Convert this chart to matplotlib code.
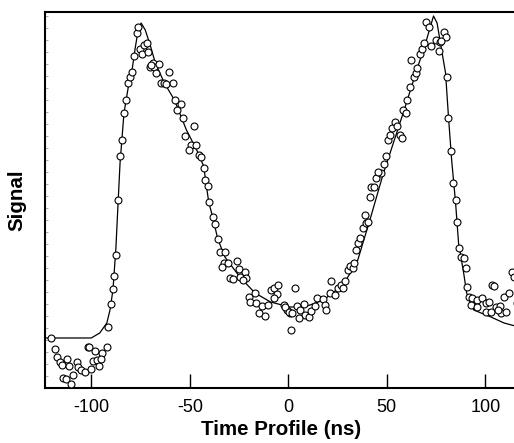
import matplotlib
matplotlib.use("Agg")
import matplotlib.pyplot as plt
import numpy as np

# fitted curve (time in ns, signal in arbitrary units)
fit_t = [-123.5, -100, -95.7, -92.1, -90.5, -89.0, -87.5, -86.4, -85.4, -84.4,
         -83.4, -81.3, -79.3, -77.7, -76.2, -74.7, -72.6, -70.1, -67.5, -62.9,
         -57.8, -51.7, -46.0, -43.0, -40.4, -38.4, -35.8, -32.2, -24.6, -16.9,
         -9.0, 0.5, 8.2, 17.9, 27.6, 34.8, 41.4, 48.0, 58.8, 66.0,
         69.1, 71.6, 73.7, 75.5, 77.2, 79.8, 81.3, 82.9, 84.9, 86.4,
         89.0, 90.5, 94.1, 102.8, 109.5, 117.0]
fit_s = [50, 50, 55, 65, 78, 98, 140, 185, 225, 250,
         275, 300, 318, 340, 358, 365, 358, 343, 325, 305,
         288, 258, 236, 222, 186, 171, 149, 131, 111, 95,
         86, 81, 81, 88, 103, 125, 168, 213, 278, 323,
         341, 358, 372, 365, 345, 315, 271, 228, 185, 145,
         115, 95, 78, 71, 65, 61]

# measured points
meas_t = [-120.2, -118.2, -117.6, -116.1, -115.1, -112.5, -111.5, -107.4, -106.9, -105.4,
          -103.3, -100.3, -114.6, -113.0, -109.5, -110.5, -101.8, -101.3, -98.2, -94.6,
          -92.1, -99.2, -97.2, -95.1, -96.2, -91.6,
          -90.0, -89.0, -88.5, -87.5, -86.4, -85.4, -84.4, -83.4, -82.4, -81.3,
          -80.3, -79.3, -78.3, -76.7, -76.2, -75.2, -74.2, -73.1, -71.1, -71.6,
          -70.1, -68.5, -68.0, -67.0, -65.5, -64.5, -62.9, -60.4, -69.6, -61.9,
          -58.3, -57.3, -54.7, -56.3, -53.2, -48.1, -52.2, -49.6, -47.1, -50.6,
          -45.5, -44.5, -43.0, -42.5, -40.9, -40.4, -38.4, -37.3,
          -35.8, -34.8, -32.2, -32.7, -33.8, -30.7, -26.1, -25.1, -22.0, -24.6,
          -29.7, -28.1, -21.5, -23.0, -16.9, -19.9, -19.4, -16.4, -14.8, -13.3,
          -10.2, -11.8, -8.7, -7.2, -5.1, -5.6, -7.2, -2.0, -0.5, 1.0,
          3.6, 4.6, 6.1, 8.2, 8.7, 1.5, -1.5, 0.5, 2.0, 5.6,
          10.7, 11.3, 13.3, 14.8, 17.4, 18.4, 18.9, 21.0, 21.5, 23.5,
          25.1, 26.6, 27.6, 28.6, 30.2, 31.2, 32.7, 33.2, 34.3, 35.3,
          36.3, 37.9, 39.4, 38.9, 40.4, 41.4, 41.9, 43.5, 44.5, 47.1,
          45.5, 48.6, 49.6, 50.6, 51.7, 52.7, 54.2, 55.2, 56.8, 57.8,
          58.3, 59.8, 60.3, 61.9, 63.9, 65.0, 65.5, 62.4, 67.0, 68.0,
          69.1, 70.1, 71.6, 72.6, 75.2, 76.7, 77.2, 78.8, 79.8, 77.7,
          80.3, 81.3, 82.4, 83.4, 84.9, 85.4, 86.4, 87.5, 89.0, 90.0,
          90.5, 91.6, 93.1, 95.7, 98.2, 100.3, 101.8, 103.3, 104.3, 105.4,
          107.4, 109.5, 112.0, 113.5, 114.6, 92.6, 95.7, 107.9, 110.5, 116.1,
          100.3, 102.8, 106.4]
meas_s = [50, 39, 31, 26, 23, 29, 22, 26, 21, 18,
          16, 19, 10, 9, 13, 4, 41, 41, 37, 35,
          41, 27, 28, 29, 22, 61,
          84, 99, 112, 133, 188, 232, 248, 275, 288, 305,
          311, 316, 332, 355, 361, 339, 334, 343, 336, 345,
          321, 325, 321, 315, 324, 305, 305, 316, 323, 304,
          305, 288, 284, 278, 270, 262, 252, 243, 243, 238,
          233, 231, 220, 208, 202, 186, 171, 164,
          149, 136, 136, 125, 121, 125, 127, 119, 116, 111,
          110, 109, 110, 108, 95, 91, 86, 85, 75, 82,
          83, 72, 98, 100, 103, 94, 90, 83, 78, 75,
          100, 82, 78, 84, 73, 58, 81, 76, 75, 70,
          71, 77, 82, 90, 89, 83, 78, 95, 107, 93,
          100, 103, 100, 107, 118, 122, 120, 125, 138, 145,
          150, 160, 165, 173, 166, 191, 201, 201, 210, 215,
          216, 224, 232, 248, 253, 260, 266, 262, 253, 250,
          278, 275, 288, 301, 311, 315, 320, 328, 334, 339,
          345, 366, 361, 342, 348, 337, 346, 356, 351, 347,
          311, 270, 237, 205, 188, 166, 140, 131, 130, 120,
          101, 91, 90, 88, 90, 85, 86, 103, 102, 81,
          82, 91, 95, 116, 111, 83, 81, 75, 76, 85,
          76, 76, 78]

xticks = [-100, -50, 0, 50, 100]

plt.rcParams['font.family'] = ['Liberation Sans', 'DejaVu Sans']

fig = plt.figure(figsize=(5.14, 4.43), dpi=100)
ax = fig.add_axes([0.0875, 0.1242, 0.92, 0.8487])

ax.plot(fit_t, fit_s, color='black', lw=0.9, zorder=2)
ax.plot(meas_t, meas_s, ls='none', marker='o', ms=5.0, mfc='white',
        mec='black', mew=0.8, zorder=3)

ax.set_xlim(-123.5, 116.5)
ax.set_ylim(0, 376)
ax.set_xticks(xticks)
ax.set_xticklabels([str(v) for v in xticks])
ax.tick_params(axis='x', direction='in', length=10, width=1, pad=8, labelsize=13)
ax.set_yticks([])
ax.set_yticks(np.arange(0, 376, 12), minor=True)
ax.tick_params(axis='y', which='minor', direction='in', length=2, width=0.5, colors='#888888')
ax.spines['right'].set_visible(False)
for s in ['left', 'bottom', 'top']:
    ax.spines[s].set_linewidth(1.5)

ax.set_xlabel('Time Profile (ns)', fontsize=14.8, fontweight='bold', labelpad=3)
ax.set_ylabel('Signal', fontsize=14.8, fontweight='bold', labelpad=10)

fig.savefig('out.png', dpi=100)
